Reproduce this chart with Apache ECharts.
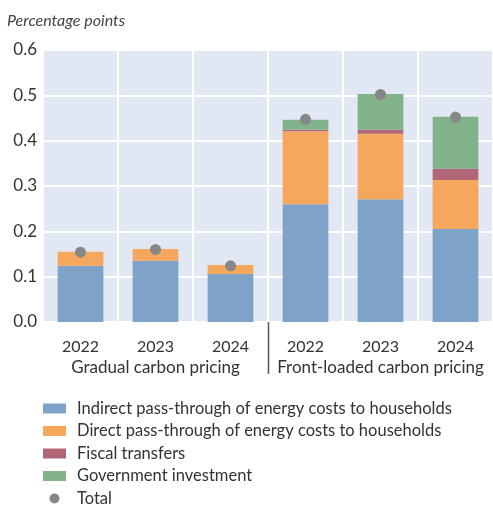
<!DOCTYPE html>
<html>
<head>
<meta charset="utf-8">
<script src="https://cdn.jsdelivr.net/npm/echarts@6/dist/echarts.min.js"></script>
<style>
  html, body { margin: 0; padding: 0; background: #fff; }
  #chart { width: 493px; height: 506px; }
</style>
</head>
<body>
<div id="chart"></div>
<script>
// data
const years = ['2022', '2023', '2024', '2022', '2023', '2024'];
const groups = ['Gradual carbon pricing', 'Front-loaded carbon pricing'];
const indirect = [0.124, 0.135, 0.106, 0.260, 0.271, 0.205];
const direct = [0.031, 0.026, 0.020, 0.161, 0.144, 0.108];
const fiscal = [0, 0, 0, 0.003, 0.009, 0.025];
const investment = [0, 0, 0, 0.022, 0.079, 0.115];
const total = [0.154, 0.160, 0.124, 0.447, 0.502, 0.452];

const font = 'Lato, "Open Sans", sans-serif';
const textColor = '#333';

const chart = echarts.init(document.getElementById('chart'));

function barSeries(name, data, color) {
  return {
    name: name,
    type: 'bar',
    stack: 'total',
    data: data,
    barCategoryGap: '39%',
    itemStyle: { color: color },
    emphasis: { disabled: true }
  };
}

const option = {
  animation: false,
  textStyle: { fontFamily: font },
  title: {
    text: 'Percentage points',
    left: 2,
    top: 8,
    textStyle: { fontFamily: font, fontStyle: 'italic', fontWeight: 'normal', fontSize: 16, color: '#444' }
  },
  grid: {
    left: 43,
    right: -5,
    top: 50,
    bottom: 184,
    show: true,
    backgroundColor: '#E2E8F3',
    borderWidth: 0
  },
  legend: {
    orient: 'vertical',
    left: 43,
    top: 400,
    height: 200,
    padding: 0,
    itemWidth: 23,
    itemHeight: 10,
    itemGap: 5.5,
    selectedMode: false,
    textStyle: { fontFamily: font, fontSize: 16.5, color: textColor, padding: [0, 0, 0, 6] },
    data: [
      { name: 'Indirect pass-through of energy costs to households', icon: 'rect' },
      { name: 'Direct pass-through of energy costs to households', icon: 'rect' },
      { name: 'Fiscal transfers', icon: 'rect' },
      { name: 'Government investment', icon: 'rect' },
      { name: 'Total', icon: 'circle', itemStyle: { color: '#878787' } }
    ]
  },
  xAxis: [
    {
      type: 'category',
      data: years,
      axisLine: { show: false },
      axisTick: { show: false },
      axisLabel: { fontFamily: font, fontSize: 16, color: textColor, margin: 17 },
      splitLine: { show: true, lineStyle: { color: '#fff', width: 2 } }
    },
    {
      type: 'category',
      position: 'bottom',
      data: groups,
      axisLine: { show: false },
      axisTick: { show: false },
      axisLabel: { fontFamily: font, fontSize: 17, color: textColor, margin: 37, interval: 0 },
      splitLine: { show: false }
    }
  ],
  yAxis: {
    type: 'value',
    min: 0,
    max: 0.6,
    interval: 0.1,
    axisLine: { show: false },
    axisTick: { show: false },
    axisLabel: {
      fontFamily: font,
      fontSize: 17,
      color: textColor,
      margin: 6,
      formatter: function (v) { return v.toFixed(1); }
    },
    splitLine: { lineStyle: { color: '#fff', width: 2 } }
  },
  series: [
    barSeries('Indirect pass-through of energy costs to households', indirect, '#7FA3C8'),
    barSeries('Direct pass-through of energy costs to households', direct, '#F5A75E'),
    barSeries('Fiscal transfers', fiscal, '#B06677'),
    barSeries('Government investment', investment, '#82B28A'),
    {
      name: 'Total',
      type: 'scatter',
      data: total,
      symbol: 'circle',
      symbolSize: 11,
      itemStyle: { color: '#878787', opacity: 1 },
      z: 5,
      emphasis: { disabled: true }
    }
  ]
};

chart.setOption(option);

// divider between the two scenarios, placed from the axis scales
const xa = chart.convertToPixel({ xAxisIndex: 0 }, 2);
const xb = chart.convertToPixel({ xAxisIndex: 0 }, 3);
const y0 = chart.convertToPixel({ yAxisIndex: 0 }, 0);
const xd = Math.round((xa + xb) / 2) + 0.5;
chart.setOption({
  graphic: [{
    type: 'line',
    shape: { x1: xd, y1: y0, x2: xd, y2: y0 + 52 },
    style: { stroke: '#555', lineWidth: 1.5 },
    silent: true
  }]
});
</script>
</body>
</html>
